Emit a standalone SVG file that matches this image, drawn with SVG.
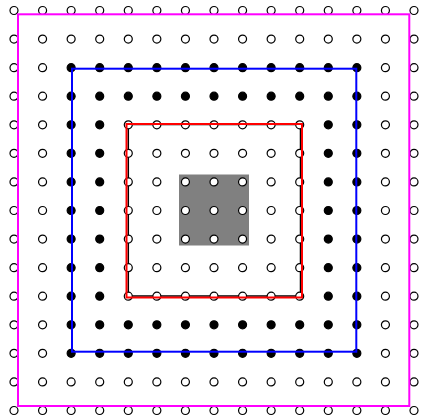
<svg xmlns="http://www.w3.org/2000/svg" xmlns:xlink="http://www.w3.org/1999/xlink" width="422" height="416" viewBox="0 0 422 416">
<style>
.o{fill:#fff;stroke:#000;stroke-width:1.2}
.f{fill:#000;stroke:#000;stroke-width:1.2}
.frame{fill:none;stroke-width:2}
</style>
<defs>
<g id="rowA">
<circle class="o" cx="14" cy="0" r="4"/><circle class="o" cx="42.57" cy="0" r="4"/><circle class="o" cx="71.14" cy="0" r="4"/><circle class="o" cx="99.71" cy="0" r="4"/><circle class="o" cx="128.29" cy="0" r="4"/><circle class="o" cx="156.86" cy="0" r="4"/><circle class="o" cx="185.43" cy="0" r="4"/><circle class="o" cx="214" cy="0" r="4"/><circle class="o" cx="242.57" cy="0" r="4"/><circle class="o" cx="271.14" cy="0" r="4"/><circle class="o" cx="299.71" cy="0" r="4"/><circle class="o" cx="328.29" cy="0" r="4"/><circle class="o" cx="356.86" cy="0" r="4"/><circle class="o" cx="385.43" cy="0" r="4"/><circle class="o" cx="414" cy="0" r="4"/>
</g>
<g id="rowB">
<circle class="o" cx="14" cy="0" r="4"/><circle class="o" cx="42.57" cy="0" r="4"/><circle class="f" cx="71.14" cy="0" r="4"/><circle class="f" cx="99.71" cy="0" r="4"/><circle class="f" cx="128.29" cy="0" r="4"/><circle class="f" cx="156.86" cy="0" r="4"/><circle class="f" cx="185.43" cy="0" r="4"/><circle class="f" cx="214" cy="0" r="4"/><circle class="f" cx="242.57" cy="0" r="4"/><circle class="f" cx="271.14" cy="0" r="4"/><circle class="f" cx="299.71" cy="0" r="4"/><circle class="f" cx="328.29" cy="0" r="4"/><circle class="f" cx="356.86" cy="0" r="4"/><circle class="o" cx="385.43" cy="0" r="4"/><circle class="o" cx="414" cy="0" r="4"/>
</g>
<g id="rowC">
<circle class="o" cx="14" cy="0" r="4"/><circle class="o" cx="42.57" cy="0" r="4"/><circle class="f" cx="71.14" cy="0" r="4"/><circle class="f" cx="99.71" cy="0" r="4"/><circle class="o" cx="128.29" cy="0" r="4"/><circle class="o" cx="156.86" cy="0" r="4"/><circle class="o" cx="185.43" cy="0" r="4"/><circle class="o" cx="214" cy="0" r="4"/><circle class="o" cx="242.57" cy="0" r="4"/><circle class="o" cx="271.14" cy="0" r="4"/><circle class="o" cx="299.71" cy="0" r="4"/><circle class="f" cx="328.29" cy="0" r="4"/><circle class="f" cx="356.86" cy="0" r="4"/><circle class="o" cx="385.43" cy="0" r="4"/><circle class="o" cx="414" cy="0" r="4"/>
</g>
</defs>
<rect width="422" height="416" fill="#fff"/>
<rect id="center-block" x="179" y="174.5" width="70" height="71" fill="#808080"/>
<rect id="inner-outline" x="128.3" y="124.5" width="172.2" height="171.5" fill="none" stroke="#000" stroke-width="1.5"/>
<g id="dots">
<use xlink:href="#rowA" y="10.5"/>
<use xlink:href="#rowA" y="39.07"/>
<use xlink:href="#rowB" y="67.64"/>
<use xlink:href="#rowB" y="96.21"/>
<use xlink:href="#rowC" y="124.79"/>
<use xlink:href="#rowC" y="153.36"/>
<use xlink:href="#rowC" y="181.93"/>
<use xlink:href="#rowC" y="210.5"/>
<use xlink:href="#rowC" y="239.07"/>
<use xlink:href="#rowC" y="267.64"/>
<use xlink:href="#rowC" y="296.21"/>
<use xlink:href="#rowB" y="324.79"/>
<use xlink:href="#rowB" y="353.36"/>
<use xlink:href="#rowA" y="381.93"/>
<use xlink:href="#rowA" y="410.5"/>
</g>
<g id="frames">
<rect id="outer" class="frame" x="18" y="14.3" width="391.3" height="391.7" stroke="#ff00ff"/>
<rect id="middle" class="frame" x="72" y="68.7" width="284.3" height="283" stroke="#0000ff"/>
<rect id="inner" class="frame" x="126.5" y="124" width="175.5" height="173.5" stroke="#ff0000"/>
</g>
</svg>
